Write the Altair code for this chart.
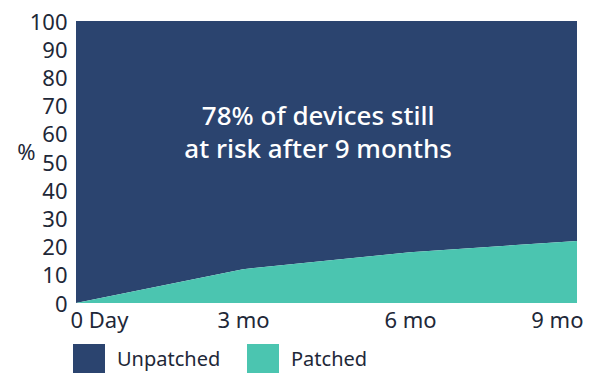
import altair as alt
import pandas as pd

months = [0, 3, 6, 9]
tick_labels = ["0 Day", "3 mo", "6 mo", "9 mo"]
patched = [0, 12, 18, 22]
unpatched = [100, 88, 82, 78]
series = ["Unpatched", "Patched"]
colors = ["#2B446F", "#4BC5B0"]
note_lines = ["78% of devices still", "at risk after 9 months"]
note_x = 4.35
note_y = 66

rows = []
for m, p, u in zip(months, patched, unpatched):
    rows.append({"month": m, "series": "Unpatched", "value": u, "ord": 1})
    rows.append({"month": m, "series": "Patched", "value": p, "ord": 0})
df = pd.DataFrame(rows)

label_expr = " : ".join(
    [f"datum.value == {m} ? '{t}'" for m, t in zip(months, tick_labels)]
) + " : ''"

FONT = "Noto Sans"
TXT = "#1E2838"
FS = 22

xscale = alt.Scale(domain=[0, 9], nice=False, zero=False)
yscale = alt.Scale(domain=[0, 100], nice=False)

xaxis = alt.Axis(values=months, labelExpr=label_expr, title=None,
                 domain=False, ticks=False, grid=False,
                 labelFlush=True, labelFlushOffset=6, labelOverlap=False,
                 labelPadding=7, labelFontSize=FS, labelFont=FONT,
                 labelColor=TXT)
yaxis = alt.Axis(values=list(range(0, 101, 10)), title="%",
                 titleAngle=0, titleAlign="right", titleBaseline="middle",
                 titleX=-41, titleY=131, titleFontSize=FS,
                 titleFont=FONT, titleFontWeight="normal", titleColor=TXT,
                 domain=False, ticks=False, grid=False, labelOverlap=False,
                 labelBound=False, labelPadding=9, labelFontSize=FS,
                 labelBaseline="alphabetic", labelOffset=8,
                 labelFont=FONT, labelColor=TXT)

area = alt.Chart(df).mark_area(interpolate="linear").encode(
    x=alt.X("month:Q", scale=xscale, axis=xaxis),
    y=alt.Y("value:Q", stack="zero", scale=yscale, axis=yaxis),
    color=alt.Color("series:N", scale=alt.Scale(domain=series, range=colors),
                    legend=alt.Legend(title=None, orient="none", legendX=-3, legendY=323,
                                      direction="horizontal", symbolType="square",
                                      symbolSize=1024, symbolStrokeWidth=0,
                                      symbolOpacity=1, labelFontSize=20,
                                      labelFont=FONT, labelColor=TXT,
                                      labelOffset=12, columnPadding=26, padding=0)),
    order=alt.Order("ord:Q"),
)

note = alt.Chart(pd.DataFrame({"month": [note_x], "value": [note_y], "t": [note_lines]})).mark_text(
    color="white", fontSize=26, font=FONT, fontWeight=500, align="center",
    baseline="middle", lineHeight=33,
).encode(x=alt.X("month:Q", scale=xscale, axis=xaxis),
         y=alt.Y("value:Q", scale=yscale, axis=yaxis), text="t")

chart = alt.layer(area, note).properties(
    width=501, height=282,
    padding={"left": 68, "top": 13, "right": 6, "bottom": 70},
    autosize=alt.AutoSizeParams(type="none"),
).configure_view(stroke=None)

chart.save("out.html", embed_options={"renderer": "svg", "actions": False})
